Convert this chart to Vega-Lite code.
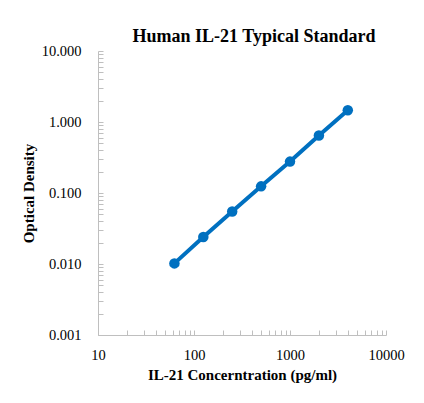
{
  "$schema": "https://vega.github.io/schema/vega-lite/v6.json",
  "autosize": "none",
  "width": 288,
  "height": 284,
  "padding": {"left": 98, "top": 51, "right": 38, "bottom": 68},
  "background": "white",
  "title": {
    "text": "Human IL-21 Typical Standard",
    "font": "Liberation Serif",
    "fontSize": 18,
    "fontWeight": "bold",
    "color": "#000000",
    "anchor": "middle",
    "dx": 12,
    "offset": -3
  },
  "config": {
    "view": {"stroke": null},
    "axis": {
      "grid": false,
      "domainColor": "#bfbfbf",
      "tickColor": "#bfbfbf",
      "labelFont": "Liberation Serif",
      "labelFontSize": 14.5,
      "labelColor": "#000000",
      "labelFlush": false,
      "titleFont": "Liberation Serif",
      "titleFontSize": 15,
      "titleFontWeight": "bold",
      "titleColor": "#000000",
      "labelOverlap": false
    }
  },
  "data": {
    "values": [
      {"conc": 62.5, "od": 0.0102},
      {"conc": 125, "od": 0.024},
      {"conc": 250, "od": 0.0548},
      {"conc": 500, "od": 0.124},
      {"conc": 1000, "od": 0.277},
      {"conc": 2000, "od": 0.647},
      {"conc": 4000, "od": 1.46}
    ]
  },
  "encoding": {
    "x": {
      "field": "conc",
      "type": "quantitative",
      "scale": {"type": "log", "domain": [10, 10000], "nice": false},
      "axis": {
        "title": "IL-21 Concerntration (pg/ml)",
        "titlePadding": 6,
        "values": [10, 20, 30, 40, 50, 60, 70, 80, 90, 100, 200, 300, 400, 500, 600, 700, 800, 900, 1000, 2000, 3000, 4000, 5000, 6000, 7000, 8000, 9000, 10000],
        "labelExpr": "abs(log(datum.value)/LN10 - round(log(datum.value)/LN10)) < 0.000001 ? format(datum.value, 'd') : ''",
        "tickSize": -5,
        "labelPadding": 18
      }
    },
    "y": {
      "field": "od",
      "type": "quantitative",
      "scale": {"type": "log", "domain": [0.001, 10], "nice": false},
      "axis": {
        "title": "Optical Density",
        "titlePadding": 5,
        "values": [0.001, 0.002, 0.003, 0.004, 0.005, 0.006, 0.007, 0.008, 0.009, 0.01, 0.02, 0.03, 0.04, 0.05, 0.06, 0.07, 0.08, 0.09, 0.1, 0.2, 0.3, 0.4, 0.5, 0.6, 0.7, 0.8, 0.9, 1, 2, 3, 4, 5, 6, 7, 8, 9, 10],
        "labelExpr": "abs(log(datum.value)/LN10 - round(log(datum.value)/LN10)) < 0.000001 ? format(datum.value, '.3f') : ''",
        "tickSize": -5,
        "labelPadding": 22
      }
    }
  },
  "layer": [
    {"mark": {"type": "line", "color": "#0070c0", "strokeWidth": 4}},
    {"mark": {"type": "point", "filled": true, "opacity": 1, "color": "#0070c0", "size": 110}}
  ]
}
